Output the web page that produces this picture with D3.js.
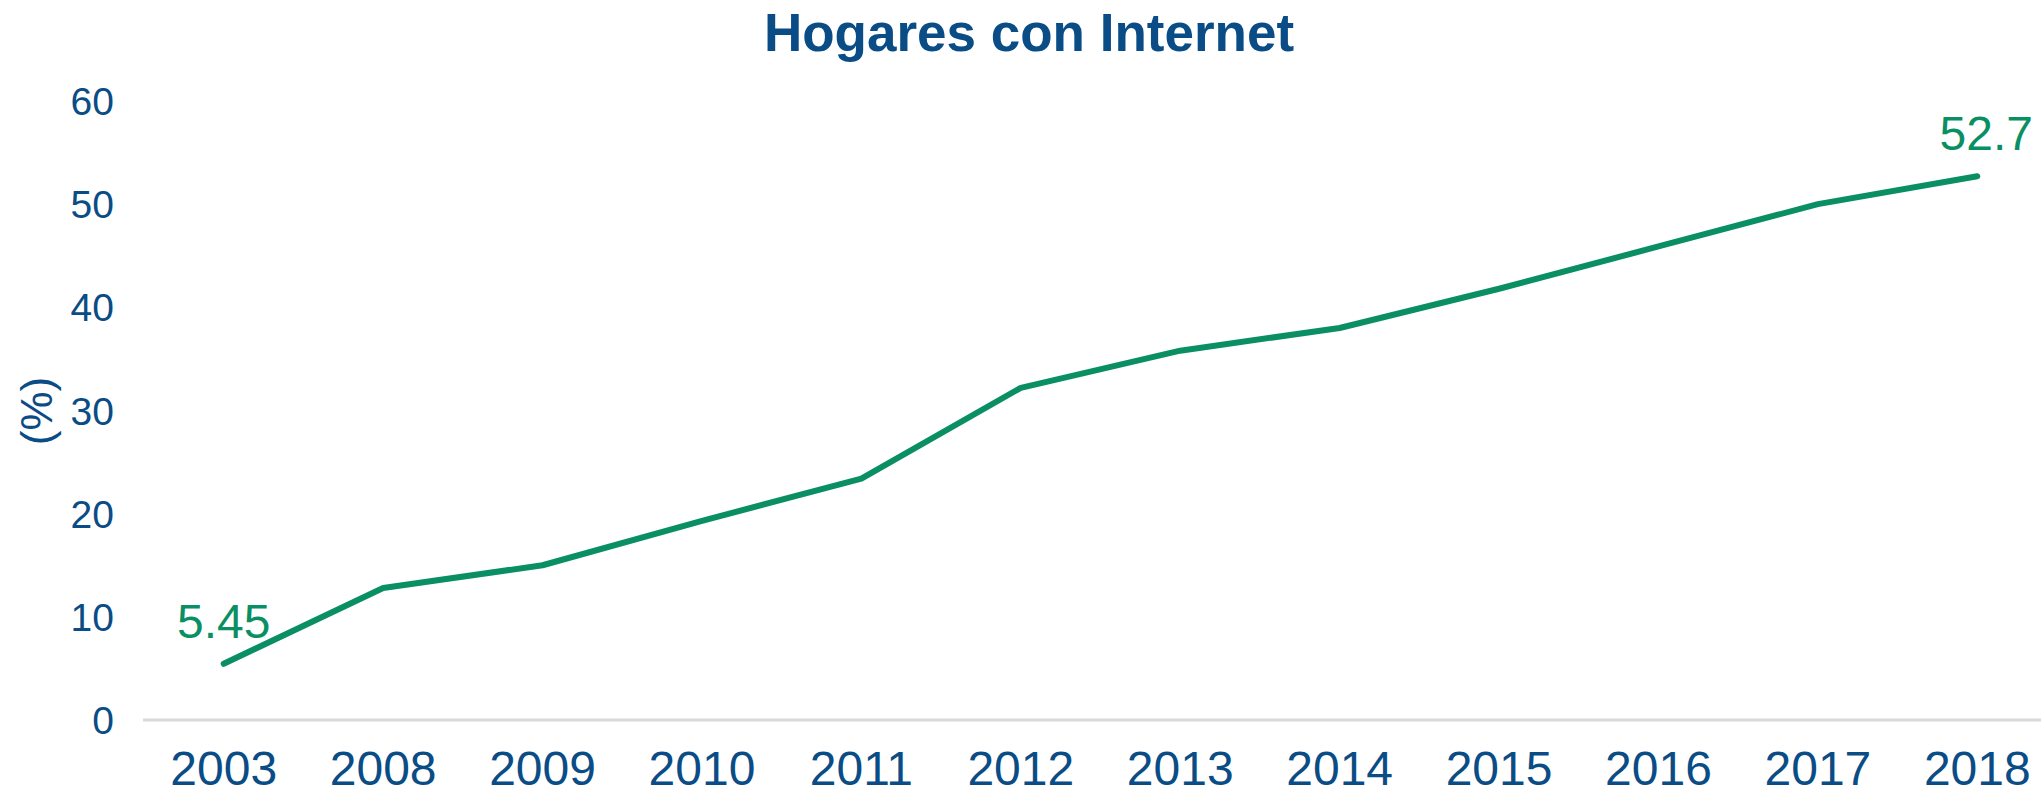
<!DOCTYPE html>
<html>
<head>
<meta charset="utf-8">
<script src="https://cdn.jsdelivr.net/npm/d3@7"></script>
<style>
  body { margin: 0; background: #fff; }
  svg { display: block; font-family: "Liberation Sans", Arial, sans-serif; }
  .title { fill: #0a4c85; font-weight: bold; font-size: 53px; }
  .ytick { fill: #0a4c85; font-size: 39px; }
  .ylab { fill: #0a4c85; font-size: 44px; }
  .xtick { fill: #0a4c85; font-size: 48px; }
  .value { fill: #0a8f64; font-size: 48px; }
</style>
</head>
<body>
<svg class="chart" width="2041" height="796"></svg>
<script>
// Data
const years = ["2003", "2008", "2009", "2010", "2011", "2012", "2013", "2014", "2015", "2016", "2017", "2018"]
const hogares = [5.45, 12.8, 15.0, 19.3, 23.4, 32.2, 35.8, 38.0, 41.8, 45.9, 50.0, 52.7]
const yTicks = [0, 10, 20, 30, 40, 50, 60]

const svg = d3.select("svg.chart")

// the band range runs a bit past the right edge, as in the original
const plotLeft = 144, plotRight = 2057, plotTop = 101, plotBottom = 720

// Scales
const x = d3.scaleBand()
	.domain(years)
	.range([plotLeft, plotRight])

const y = d3.scaleLinear()
	.domain([0, 60])
	.range([plotBottom, plotTop])

const cx = d => x(d) + x.bandwidth() / 2

// Title
svg.append("text")
	.attr("class", "title")
	.attr("x", 1029)
	.attr("y", 51)
	.attr("text-anchor", "middle")
	.text("Hogares con Internet")

// Y axis label
svg.append("text")
	.attr("class", "ylab")
	.attr("transform", "translate(52, 411) rotate(-90)")
	.attr("text-anchor", "middle")
	.text("(%)")

// Y tick labels
svg.selectAll("text.yt")
	.data(yTicks)
	.enter()
	.append("text")
	.attr("class", "ytick yt")
	.attr("x", 114)
	.attr("y", d => y(d))
	.attr("dy", "0.36em")
	.attr("text-anchor", "end")
	.text(d => d)

// Baseline
svg.append("line")
	.attr("x1", plotLeft - 1)
	.attr("x2", 2041)
	.attr("y1", y(0))
	.attr("y2", y(0))
	.attr("stroke", "#d9d9d9")
	.attr("stroke-width", 3)

// X tick labels (kept just inside the bottom edge)
svg.selectAll("text.xt")
	.data(years)
	.enter()
	.append("text")
	.attr("class", "xtick xt")
	.attr("x", d => cx(d))
	.attr("y", 785)
	.attr("text-anchor", "middle")
	.text(d => d)

// Line
const line = d3.line()
	.x((d, i) => cx(years[i]))
	.y(d => y(d))

svg.append("path")
	.datum(hogares)
	.attr("d", line)
	.attr("fill", "none")
	.attr("stroke", "#0a8f64")
	.attr("stroke-width", 6)
	.attr("stroke-linecap", "round")
	.attr("stroke-linejoin", "round")

// Value labels at first and last point
const ends = [0, hogares.length - 1]
svg.selectAll("text.value")
	.data(ends)
	.enter()
	.append("text")
	.attr("class", "value")
	.attr("x", i => cx(years[i]) + (i === 0 ? 0 : 9))
	.attr("y", i => y(hogares[i]) - 26)
	.attr("text-anchor", "middle")
	.text(i => hogares[i])
</script>
</body>
</html>
